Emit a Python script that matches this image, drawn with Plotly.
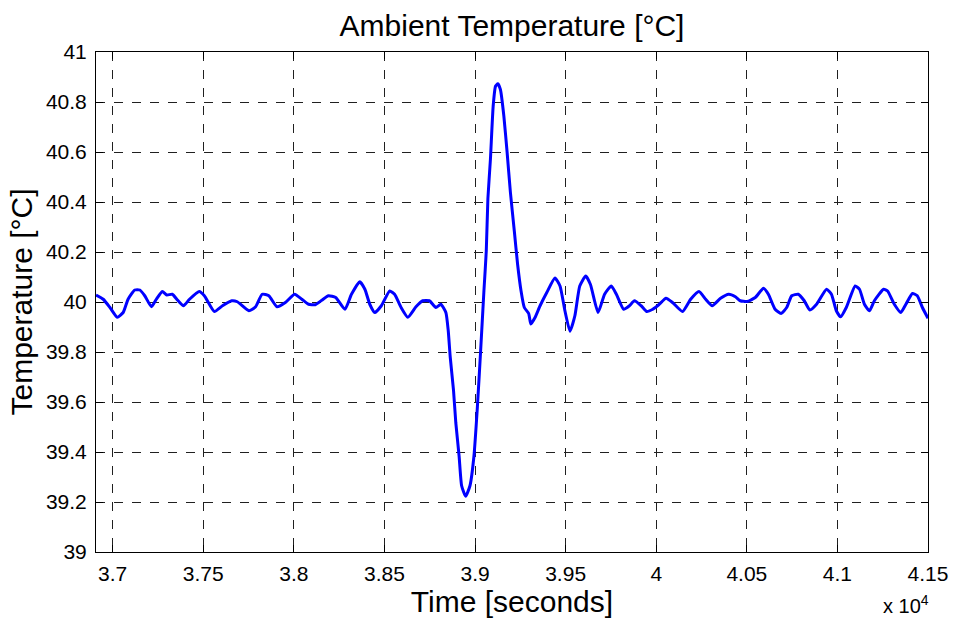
import plotly.graph_objects as go

# Ambient temperature trace, time in seconds
time_s = [
    36908, 36948, 36985, 37025, 37058, 37085, 37122, 37150, 37177, 37214,
    37241, 37274, 37299, 37329, 37359, 37391, 37424, 37478, 37506, 37561,
    37606, 37657, 37688, 37752, 37789, 37825, 37862, 37907, 37953, 38004,
    38044, 38081, 38118, 38154, 38191, 38231, 38282, 38318, 38364, 38392,
    38419, 38447, 38483, 38529, 38556, 38592, 38629, 38674, 38711, 38748,
    38784, 38811, 38839, 38852, 38863, 38881, 38894, 38912, 38926, 38948,
    38972, 38994, 39012, 39031, 39049, 39062, 39071, 39085, 39100, 39113,
    39126, 39140, 39159, 39177, 39195, 39217, 39235, 39254, 39272, 39296,
    39308, 39332, 39359, 39396, 39441, 39469, 39496, 39524, 39551, 39578,
    39611, 39637, 39679, 39715, 39752, 39780, 39820, 39852, 39880, 39917,
    39948, 39981, 40014, 40054, 40090, 40145, 40190, 40236, 40273, 40309,
    40355, 40400, 40437, 40464, 40501, 40547, 40592, 40619, 40656, 40689,
    40720, 40748, 40784, 40817, 40848, 40885, 40940, 40967, 40994, 41018,
    41049, 41098, 41122, 41149, 41177, 41204, 41255, 41277, 41314, 41350,
    41378, 41414, 41441, 41469, 41500,
]
temp_c = [
    40.028, 40.011, 39.978, 39.939, 39.958, 40.011, 40.048, 40.048, 40.025, 39.981,
    40.011, 40.042, 40.028, 40.031, 40.007, 39.985, 40.011, 40.042, 40.025, 39.962,
    39.985, 40.005, 40.001, 39.965, 39.981, 40.031, 40.025, 39.981, 39.998, 40.031,
    40.011, 39.991, 39.989, 40.007, 40.025, 40.018, 39.971, 40.031, 40.081, 40.051,
    39.991, 39.958, 39.985, 40.044, 40.031, 39.978, 39.939, 39.981, 40.005, 40.005,
    39.978, 39.991, 39.958, 39.886, 39.780, 39.648, 39.516, 39.384, 39.265, 39.223,
    39.265, 39.384, 39.569, 39.807, 40.044, 40.203, 40.414, 40.572, 40.783, 40.863,
    40.873, 40.850, 40.744, 40.599, 40.440, 40.282, 40.150, 40.044, 39.978, 39.954,
    39.912, 39.939, 39.985, 40.038, 40.096, 40.064, 39.965, 39.883, 39.945, 40.064,
    40.104, 40.070, 39.958, 40.031, 40.064, 40.031, 39.971, 39.985, 40.005, 39.985,
    39.962, 39.971, 39.989, 40.015, 39.998, 39.962, 40.011, 40.042, 40.011, 39.985,
    40.015, 40.031, 40.021, 40.005, 40.002, 40.018, 40.055, 40.031, 39.971, 39.954,
    39.978, 40.025, 40.031, 40.005, 39.968, 39.991, 40.051, 40.031, 39.965, 39.941,
    39.978, 40.064, 40.051, 39.991, 39.965, 40.005, 40.051, 40.044, 39.991, 39.958,
    39.991, 40.034, 40.025, 39.978, 39.935,
]

x_tick_vals = [37000, 37500, 38000, 38500, 39000, 39500, 40000, 40500, 41000, 41500]
x_tick_text = ["3.7", "3.75", "3.8", "3.85", "3.9", "3.95", "4", "4.05", "4.1", "4.15"]
y_tick_vals = [39, 39.2, 39.4, 39.6, 39.8, 40, 40.2, 40.4, 40.6, 40.8, 41]
y_tick_text = ["39", "39.2", "39.4", "39.6", "39.8", "40", "40.2", "40.4", "40.6", "40.8", "41"]

FONT = "Liberation Sans, Arial, Helvetica, sans-serif"

fig = go.Figure()
fig.add_trace(go.Scatter(
    x=time_s, y=temp_c, mode="lines",
    line=dict(color="#0000ff", width=3, shape="spline", smoothing=0.5),
    showlegend=False, hoverinfo="x+y",
))

axis_common = dict(
    showline=True, linecolor="black", linewidth=1, mirror="ticks",
    ticks="inside", ticklen=7, tickcolor="black", tickwidth=1,
    showgrid=True, gridcolor="#202020", griddash="dash", gridwidth=1,
    zeroline=False, tickfont=dict(family=FONT, size=21, color="black"),
)

fig.update_layout(
    width=960, height=622,
    margin=dict(l=96, r=26, t=52, b=65),
    paper_bgcolor="white", plot_bgcolor="white",
    title=dict(
        text="Ambient Temperature [°C]",
        font=dict(family=FONT, size=30, color="black"),
        x=0.5, xref="paper", xanchor="center",
        y=1 - 25 / 622, yref="container", yanchor="middle",
    ),
    xaxis=dict(
        range=[36908, 41500], tickvals=x_tick_vals, ticktext=x_tick_text,
        title=dict(text="Time [seconds]", font=dict(family=FONT, size=30, color="black"),
                   standoff=4),
        ticklabelstandoff=3,
        **axis_common,
    ),
    yaxis=dict(
        range=[39, 41], tickvals=y_tick_vals, ticktext=y_tick_text,
        title=dict(text="Temperature [°C]", font=dict(family=FONT, size=30, color="black"),
                   standoff=4),
        ticklabelstandoff=4,
        **axis_common,
    ),
    annotations=[dict(
        text="x 10<sup>4</sup>", xref="paper", yref="paper",
        x=1.004, y=-0.105, xanchor="right", yanchor="middle", showarrow=False,
        font=dict(family=FONT, size=20, color="black"),
    )],
)

fig.write_html("out.html")
